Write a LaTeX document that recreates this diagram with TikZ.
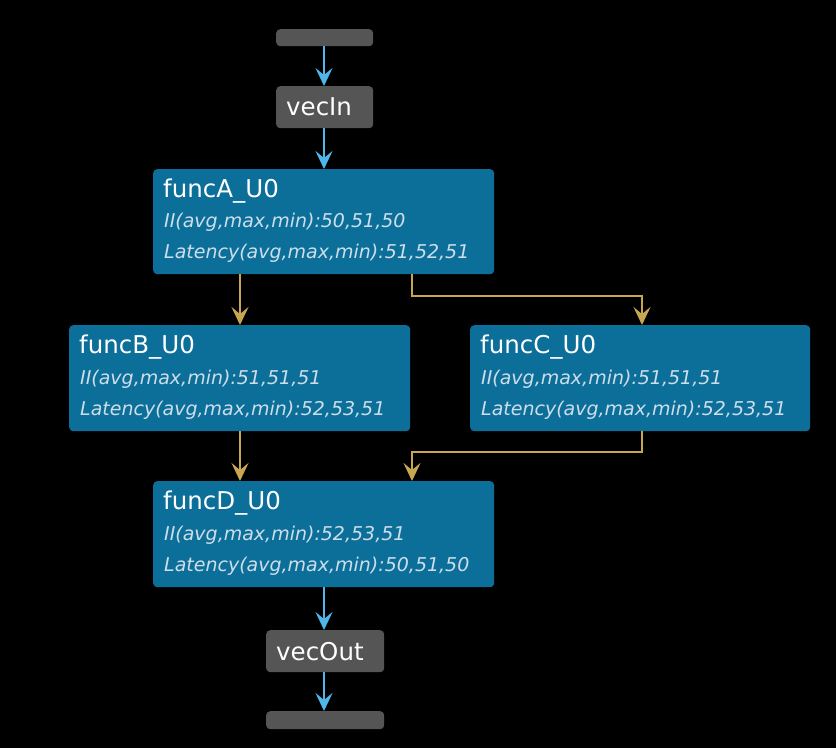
\documentclass[tikz,border=0pt]{standalone}
\usepackage{fontspec}
\setmainfont{DejaVu Sans}
\usetikzlibrary{arrows.meta,calc}
\definecolor{boxblue}{RGB}{12,111,153}
\definecolor{boxgray}{RGB}{85,85,85}
\definecolor{arrblue}{RGB}{78,182,232}
\definecolor{arrgold}{RGB}{200,166,82}
\definecolor{subtxt}{RGB}{205,222,234}
\tikzset{
  funcbox/.style={fill=boxblue, rounded corners=4pt, anchor=north west, inner sep=0pt},
  iobox/.style={fill=boxgray, rounded corners=4pt, anchor=north west, inner sep=0pt},
  ttl/.style={anchor=west, text=white, font=\fontsize{24.5}{28}\selectfont, inner sep=0pt},
  sub/.style={anchor=west, text=subtxt, font=\itshape\fontsize{19}{22}\selectfont, inner sep=0pt},
  bluearr/.style={draw=arrblue, line width=2.6pt, -{Stealth[length=18pt,width=17pt,inset=7pt]}},
  goldarr/.style={draw=arrgold, line width=2pt, -{Stealth[length=18pt,width=17pt,inset=7pt]}},
}
\begin{document}
\begin{tikzpicture}[x=1pt,y=-1pt]
\fill[black] (0,0) rectangle (836,748);
\useasboundingbox (0,0) rectangle (836,748);
% io boxes
\node[iobox, minimum width=97pt, minimum height=17pt] (top) at (276,29) {};
\node[iobox, minimum width=97pt, minimum height=42pt] (vin) at (276,86) {};
\node[ttl] (vint) at ([xshift=10pt]vin.west) {vecIn};
\node[iobox, minimum width=118pt, minimum height=42pt] (vout) at (266,630) {};
\node[ttl] (voutt) at ([xshift=10pt]vout.west) {vecOut};
\node[iobox, minimum width=118pt, minimum height=18pt] (bot) at (266,711) {};
% func boxes
\node[funcbox, minimum width=341pt, minimum height=105pt] (A) at (153,169) {};
\node[ttl] (At) at ($(A.north west)+(10,22)$) {funcA\_U0};
\node[sub] (A1) at ($(A.north west)+(11,53)$) {II(avg,max,min):50,51,50};
\node[sub] (A2) at ($(A.north west)+(11,84)$) {Latency(avg,max,min):51,52,51};
\node[funcbox, minimum width=341pt, minimum height=106pt] (B) at (69,325) {};
\node[ttl] (Bt) at ($(B.north west)+(10,22)$) {funcB\_U0};
\node[sub] (B1) at ($(B.north west)+(11,54)$) {II(avg,max,min):51,51,51};
\node[sub] (B2) at ($(B.north west)+(11,85)$) {Latency(avg,max,min):52,53,51};
\node[funcbox, minimum width=340pt, minimum height=106pt] (C) at (470,325) {};
\node[ttl] (Ct) at ($(C.north west)+(10,22)$) {funcC\_U0};
\node[sub] (C1) at ($(C.north west)+(11,54)$) {II(avg,max,min):51,51,51};
\node[sub] (C2) at ($(C.north west)+(11,85)$) {Latency(avg,max,min):52,53,51};
\node[funcbox, minimum width=341pt, minimum height=106pt] (D) at (153,481) {};
\node[ttl] (Dt) at ($(D.north west)+(10,22)$) {funcD\_U0};
\node[sub] (D1) at ($(D.north west)+(11,54)$) {II(avg,max,min):52,53,51};
\node[sub] (D2) at ($(D.north west)+(11,85)$) {Latency(avg,max,min):50,51,50};
% connectors
\draw[bluearr] (top.south -| 324,0) -- (vin.north -| 324,0);
\draw[bluearr] (vin.south -| 324,0) -- (A.north -| 324,0);
\draw[goldarr] (A.south -| 240,0) -- (B.north -| 240,0);
\draw[goldarr] (A.south -| 412,0) -- (412,296) -- (642,296) -- (C.north -| 642,0);
\draw[goldarr] (B.south -| 240,0) -- (D.north -| 240,0);
\draw[goldarr] (C.south -| 642,0) -- (642,452) -- (412,452) -- (D.north -| 412,0);
\draw[bluearr] (D.south -| 324,0) -- (vout.north -| 324,0);
\draw[bluearr] (vout.south -| 324,0) -- (bot.north -| 324,0);
\end{tikzpicture}
\end{document}
